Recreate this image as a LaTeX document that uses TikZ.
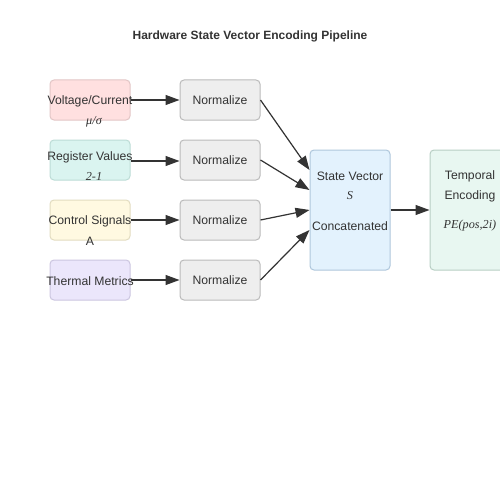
\documentclass[tikz,border=0pt]{standalone}
\usepackage{fontspec}
\setmainfont{Liberation Sans}
\newfontfamily\mathserif{Liberation Serif}
\usepackage{tikz}
\usetikzlibrary{arrows.meta,backgrounds}
\definecolor{volfill}{HTML}{FFE0E0}
\definecolor{volline}{HTML}{E2C6C6}
\definecolor{regfill}{HTML}{DAF4F0}
\definecolor{regline}{HTML}{BCDCD6}
\definecolor{ctlfill}{HTML}{FFF9E1}
\definecolor{ctlline}{HTML}{E2DCC0}
\definecolor{thmfill}{HTML}{EBE6FB}
\definecolor{thmline}{HTML}{CCC6E0}
\definecolor{normfill}{HTML}{EEEEEE}
\definecolor{normline}{HTML}{BBBBBB}
\definecolor{vecfill}{HTML}{E3F2FD}
\definecolor{vecline}{HTML}{AFC7DC}
\definecolor{encfill}{HTML}{E8F7F1}
\definecolor{encline}{HTML}{B8CFC4}
\definecolor{ink}{HTML}{333333}
\tikzstyle{box}=[draw, line width=1pt, rounded corners=4pt, minimum width=80pt, text=ink, font=\fontsize{12.2}{12}\selectfont, inner sep=0pt]
\tikzstyle{small}=[box, minimum height=40pt]
\tikzstyle{tall}=[box, minimum height=120pt]
\tikzstyle{flow}=[draw=ink, line width=1.2pt, -{Triangle[length=14pt,width=10pt]}]
\tikzstyle{note}=[text=ink, font=\fontsize{12.2}{12}\selectfont, inner sep=0pt]
\newcommand{\symb}[1]{{\mathserif\itshape #1}}

\begin{document}
\begin{tikzpicture}[x=1pt, y=-1pt]
 \useasboundingbox[fill=white] (0,0) rectangle (500,500);
 \node[note, font=\bfseries\fontsize{12}{12}\selectfont] (title) at (250,36) {Hardware State Vector Encoding Pipeline};
%
 \node[small, fill=volfill, draw=volline] (vol) at (90,100) {};
 \node[small, fill=regfill, draw=regline] (reg) at (90,160) {};
 \node[small, fill=ctlfill, draw=ctlline] (ctl) at (90,220) {};
 \node[small, fill=thmfill, draw=thmline] (thm) at (90,280) {};
 \node[note] (voltxt) at (90,101) {Voltage/Current};
 \node[note] (regtxt) at (90,157) {Register Values};
 \node[note] (ctltxt) at (90,221) {Control Signals};
 \node[note] (thmtxt) at (90,281) {Thermal Metrics};
 \node[note] (volsub) at (94,122) {\symb{μ/σ}};
 \node[note] (regsub) at (94,176) {\symb{2-1}};
 \node[note] (ctlsub) at (90,241) {A};
%
 \node[small, fill=normfill, draw=normline] (n1) at (220,100) {\raisebox{-1pt}{Normalize}};
 \node[small, fill=normfill, draw=normline] (n2) at (220,160) {\raisebox{-1pt}{Normalize}};
 \node[small, fill=normfill, draw=normline] (n3) at (220,220) {\raisebox{-1pt}{Normalize}};
 \node[small, fill=normfill, draw=normline] (n4) at (220,280) {\raisebox{-1pt}{Normalize}};
%
 \node[tall, fill=vecfill, draw=vecline] (vec) at (350,210) {};
 \node[note] (vectxt) at (350,176) {State Vector};
 \node[note] (vecsym) at (350,196) {\symb{S}};
 \node[note] (veccat) at (350,226) {Concatenated};
 \node[tall, fill=encfill, draw=encline] (enc) at (470,210) {};
 \node[note] (enctxt) at (470,176) {Temporal};
 \node[note] (encenc) at (470,196) {Encoding};
 \node[note] (encpe) at (470,226) {\symb{PE(pos,2i)}};
%
 \draw[flow] (vol.east) -- (n1.west);
 \draw[flow] ([yshift=-1pt]reg.east) -- ([yshift=-1pt]n2.west);
 \draw[flow] (ctl.east) -- (n3.west);
 \draw[flow] (thm.east) -- (n4.west);
 \draw[flow] (n1.east) -- ([yshift=40pt]vec.west);
 \draw[flow] (n2.east) -- ([yshift=20pt]vec.west);
 \draw[flow] (n3.east) -- (vec.west);
 \draw[flow] (n4.east) -- ([yshift=-20pt]vec.west);
 \draw[flow] (vec.east) -- (enc.west);
\end{tikzpicture}
\end{document}
